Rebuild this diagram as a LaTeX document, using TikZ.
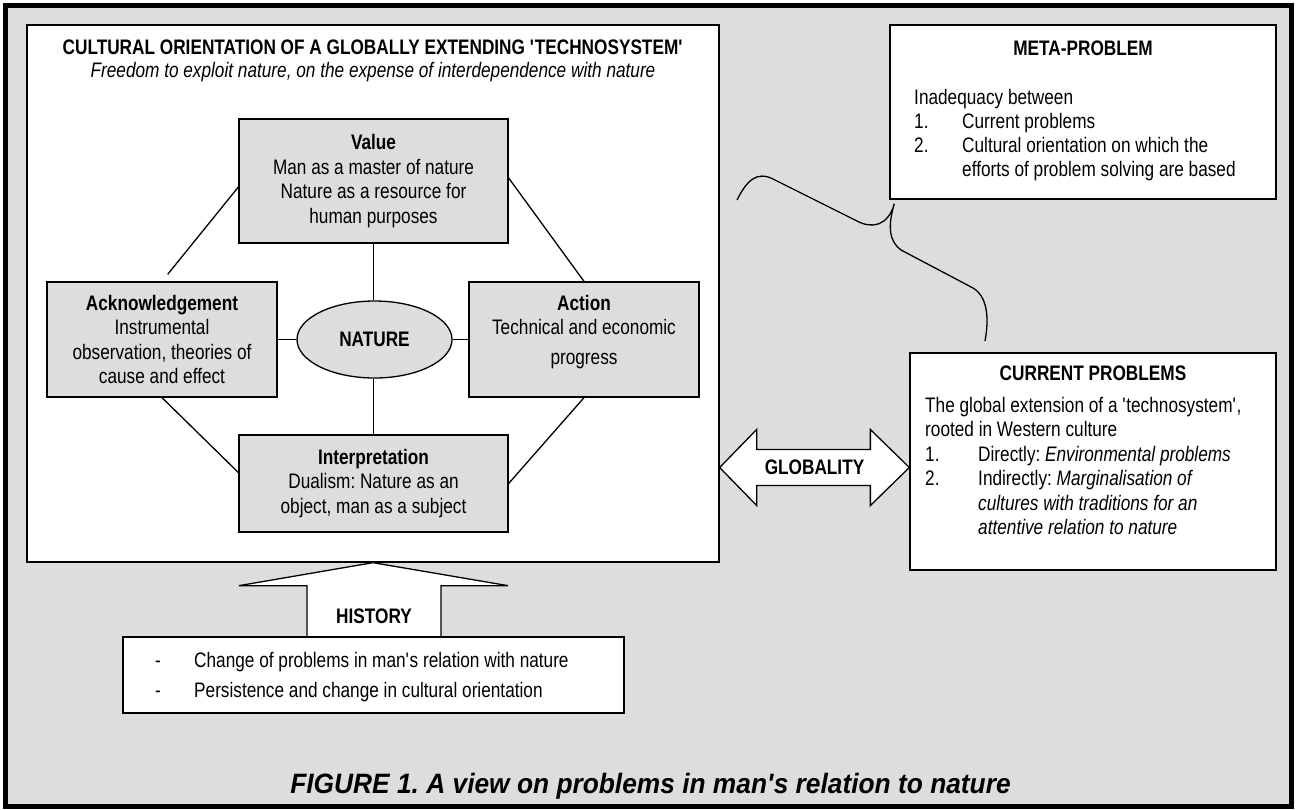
\documentclass[tikz,border=0pt]{standalone}
\usepackage{fontspec}
\setmainfont{Liberation Sans}[FakeStretch=0.82]
\newfontfamily\capfont{Liberation Sans}[FakeStretch=0.94]
\usetikzlibrary{shapes.geometric,calc}
\definecolor{bg}{RGB}{221,221,221}
\newcommand\bodyfs{\fontsize{21}{24.5}\selectfont}
\frenchspacing
\begin{document}
\begin{tikzpicture}[x=1pt,y=-1pt,
  box/.style={draw, line width=1.3pt, fill=bg, inner sep=0pt, align=center, font=\bodyfs},
  wbox/.style={draw, line width=1.3pt, fill=white, inner sep=0pt},
  conn/.style={line width=1.3pt},
  ctext/.style={align=center, font=\bodyfs, inner sep=0pt},
  ltext/.style={anchor=base west, font=\bodyfs, inner sep=0pt},
  btext/.style={font=\bodyfs\bfseries, inner sep=0pt},
]
\useasboundingbox (0,0) rectangle (1297,809);
\fill[white] (0,0) rectangle (1297,809);
\draw[line width=5pt, fill=bg] (5,5) rectangle (1291,806);

% main box
\node[wbox, minimum width=692pt, minimum height=537pt] (main) at (373,293.5) {};
\node[btext] (title) at (373,47) {CULTURAL ORIENTATION OF A GLOBALLY EXTENDING \textquotesingle TECHNOSYSTEM\textquotesingle};
\node[font=\bodyfs\itshape, inner sep=0pt] (subtitle) at (373,72) {Freedom to exploit nature, on the expense of interdependence with nature};

\node[box, minimum width=269pt, minimum height=124pt] (val) at (373.5,181) {\textbf{Value}\\Man as a master of nature\\Nature as a resource for\\human purposes};
\node[box, minimum width=230pt, minimum height=115pt] (ack) at (162,339.5) {\textbf{Acknowledgement}\\Instrumental\\observation, theories of\\cause and effect};
\node[box, minimum width=230pt, minimum height=115pt] (act) at (584,339.5) {};
\node[ctext, anchor=north] (acttxt) at (584,295) {\textbf{Action}\\Technical and economic\\[5pt]progress};
\node[box, minimum width=269pt, minimum height=97pt] (int) at (373.5,483.5) {\textbf{Interpretation}\\Dualism: Nature as an\\object, man as a subject};
\node[ellipse, draw, line width=1.3pt, fill=bg, minimum width=155pt, minimum height=77pt, font=\bodyfs\bfseries, inner sep=0pt] (nat) at (374.5,339.5) {NATURE};

% connectors
\draw[conn] (val.south) -- (val.south |- nat.north);
\draw[conn] (int.north) -- (int.north |- nat.south);
\draw[conn] (ack.east) -- (nat.west);
\draw[conn] (nat.east) -- (act.west);
\draw[conn, shorten >=9pt] ([yshift=-6pt]val.west) -- (ack.north);
\draw[conn] ([yshift=3pt]val.east) -- (act.north);
\draw[conn] (ack.south) -- ([yshift=11pt]int.west);
\draw[conn] (int.east) -- (act.south);

% history arrow
\coordinate (htip) at (main.south);
\draw[line width=1.3pt, fill=white] (htip) -- ($(htip)+(135,23)$) -- ($(htip)+(68,23)$) -- ($(htip)+(68,76)$)
  -- ($(htip)+(-66,76)$) -- ($(htip)+(-66,23)$) -- ($(htip)+(-134,23)$) -- cycle;
\node[wbox, minimum width=501pt, minimum height=76pt] (hist) at (373.5,675) {};
\node[btext] (histlbl) at (374,616) {HISTORY};
\node[ltext] (hd1) at (155,667) {-};
\node[ltext] (h1) at (194,667) {Change of problems in man\textquotesingle s relation with nature};
\node[ltext] (hd2) at (155,697) {-};
\node[ltext] (h2) at (194,697) {Persistence and change in cultural orientation};

% meta problem
\node[wbox, minimum width=386pt, minimum height=174pt] (meta) at (1083,112) {};
\node[btext] (metat) at (1083,48) {META-PROBLEM};
\node[ltext] (m0) at (914,104) {Inadequacy between};
\node[ltext] (m1n) at (914,128) {1.};
\node[ltext] (m1) at (962,128) {Current problems};
\node[ltext] (m2n) at (914,152) {2.};
\node[ltext] (m2) at (962,152) {Cultural orientation on which the};
\node[ltext] (m3) at (962,176) {efforts of problem solving are based};

% current problems
\node[wbox, minimum width=366pt, minimum height=217pt] (cur) at (1093,461.5) {};
\node[btext] (curt) at (1093,373) {CURRENT PROBLEMS};
\node[ltext] (c0) at (925,412) {The global extension of a \textquotesingle technosystem\textquotesingle,};
\node[ltext] (c1) at (925,436.5) {rooted in Western culture};
\node[ltext] (c2n) at (925,461) {1.};
\node[ltext] (c2) at (978,461) {Directly: \textit{Environmental problems}};
\node[ltext] (c3n) at (925,485.5) {2.};
\node[ltext] (c3) at (978,485.5) {Indirectly: \textit{Marginalisation of}};
\node[ltext] (c4) at (978,510) {\textit{cultures with traditions for an}};
\node[ltext] (c5) at (978,534.5) {\textit{attentive relation to nature}};

% globality double arrow
\coordinate (gL) at ([yshift=-6pt]main.east |- cur.west);
\coordinate (gR) at ([yshift=-6pt]cur.west);
\draw[line width=1.3pt, fill=white] (gL) -- ($(gL)+(37,-38)$) -- ($(gL)+(37,-18)$) -- ($(gR)+(-39,-18)$)
  -- ($(gR)+(-39,-38)$) -- (gR) -- ($(gR)+(-39,38)$) -- ($(gR)+(-39,18)$) -- ($(gL)+(37,18)$)
  -- ($(gL)+(37,38)$) -- cycle;
\node[btext] (glbl) at ($(gL)!0.5!(gR)$) {GLOBALITY};

% brace pointing at the meta-problem box
\coordinate (bA) at (737,200);
\coordinate (bT) at ([shift={(5pt,-4pt)}]meta.south west);
\coordinate (bB) at (985,341);
\draw[line width=1.3pt] (bA) .. controls (747,180) and (757,171) .. (773,179) -- (857,221)
  .. controls (872,229) and (888,226) .. (bT)
  .. controls (887,228) and (890,242) .. (901,250) -- (973,288)
  .. controls (990,298) and (988,325) .. (bB);

% caption
\node[font=\capfont\fontsize{28}{34}\selectfont\bfseries\itshape, anchor=base, inner sep=0pt] (cap) at (650.5,793) {FIGURE 1. A view on problems in man\textquotesingle s relation to nature};
\end{tikzpicture}
\end{document}
